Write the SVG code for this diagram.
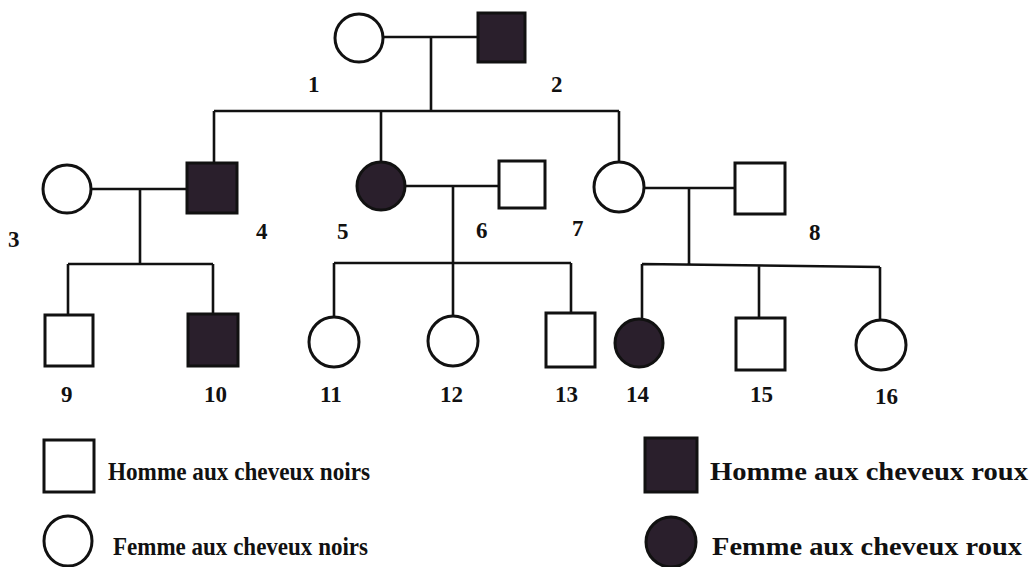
<svg xmlns="http://www.w3.org/2000/svg" width="1033" height="567" viewBox="0 0 1033 567">
<style>
.o{fill:#fff;stroke:#111;stroke-width:3}
.f{fill:#2a1f2c;stroke:#111;stroke-width:3}
.c{stroke:#111;stroke-width:2.6;fill:none}
.n{font-family:"Liberation Serif","Times New Roman",serif;font-size:23px;font-weight:bold;fill:#111}
.t{font-family:"Liberation Serif","Times New Roman",serif;font-size:26px;font-weight:bold;fill:#111}
</style>
<rect width="1033" height="567" fill="#fff"/>
<g id="connectors">
<path class="c" d="M383 37H477M431 37V111M214 111H619M214 111V162M381 111V162M619 111V163"/>
<path class="c" d="M92 189H187M140 189V264M68 264H213M68 264V315M213 264V313"/>
<path class="c" d="M405 186H499M453 186V263M334 263H571M334 263V317M453 263V315M571 263V313"/>
<path class="c" d="M643 188H735M689 188V264M642 264L880 267M642 264V319M759 265V318M880 267V320"/>
</g>
<g id="n1"><circle class="o" cx="359" cy="38" r="24"/><text class="n" x="308" y="92">1</text></g>
<g id="n2"><rect class="f" x="478" y="13" width="47" height="49"/><text class="n" x="551" y="92">2</text></g>
<g id="n3"><circle class="o" cx="67" cy="189" r="24"/><text class="n" x="8" y="247">3</text></g>
<g id="n4"><rect class="f" x="187" y="163" width="50" height="50"/><text class="n" x="256" y="239">4</text></g>
<g id="n5"><circle class="f" cx="381" cy="186" r="24"/><text class="n" x="337" y="239">5</text></g>
<g id="n6"><rect class="o" x="499" y="161" width="46" height="47"/><text class="n" x="476" y="238">6</text></g>
<g id="n7"><circle class="o" cx="619" cy="187" r="25"/><text class="n" x="572" y="236">7</text></g>
<g id="n8"><rect class="o" x="735" y="163" width="50" height="51"/><text class="n" x="809" y="240">8</text></g>
<g id="n9"><rect class="o" x="45" y="315" width="48" height="51"/><text class="n" x="61" y="402">9</text></g>
<g id="n10"><rect class="f" x="188" y="314" width="50" height="52"/><text class="n" x="204" y="402">10</text></g>
<g id="n11"><circle class="o" cx="334" cy="342" r="25"/><text class="n" x="320" y="402">11</text></g>
<g id="n12"><circle class="o" cx="453" cy="341" r="25"/><text class="n" x="440" y="402">12</text></g>
<g id="n13"><rect class="o" x="546" y="313" width="49" height="54"/><text class="n" x="555" y="402">13</text></g>
<g id="n14"><circle class="f" cx="639" cy="343" r="24"/><text class="n" x="626" y="402">14</text></g>
<g id="n15"><rect class="o" x="736" y="318" width="49" height="52"/><text class="n" x="750" y="402">15</text></g>
<g id="n16"><circle class="o" cx="881" cy="345" r="25"/><text class="n" x="875" y="404">16</text></g>
<g id="legend">
<rect class="o" x="44" y="440" width="50" height="52"/>
<text class="t" x="108" y="480" textLength="262" lengthAdjust="spacingAndGlyphs">Homme aux cheveux noirs</text>
<ellipse class="o" cx="68" cy="541" rx="24" ry="25"/>
<text class="t" x="113" y="555" textLength="255" lengthAdjust="spacingAndGlyphs">Femme aux cheveux noirs</text>
<rect class="f" x="645" y="438" width="52" height="54"/>
<text class="t" x="710" y="480" textLength="318" lengthAdjust="spacingAndGlyphs">Homme aux cheveux roux</text>
<ellipse class="f" cx="671" cy="542" rx="25" ry="25"/>
<text class="t" x="712" y="555" textLength="310" lengthAdjust="spacingAndGlyphs">Femme aux cheveux roux</text>
</g>
</svg>
